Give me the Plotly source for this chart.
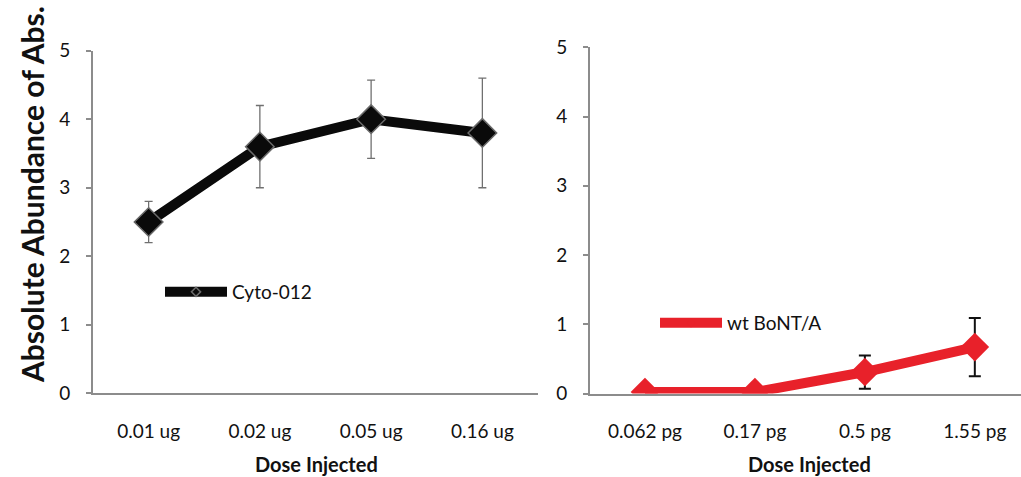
import plotly.graph_objects as go

# Left panel: Cyto-012
cyto_doses = ["0.01 ug", "0.02 ug", "0.05 ug", "0.16 ug"]
cyto_values = [2.5, 3.6, 4.0, 3.8]
cyto_errors = [0.3, 0.6, 0.57, 0.8]

# Right panel: wt BoNT/A
bont_doses = ["0.062 pg", "0.17 pg", "0.5 pg", "1.55 pg"]
bont_values = [0.02, 0.02, 0.31, 0.67]
bont_errors = [0.0, 0.0, 0.24, 0.42]

y_ticks = [0, 1, 2, 3, 4, 5]

FONT = "Lato"
W, H = 1021, 477
BLACK = "#0a0a0a"
RED = "#e8212a"

fig = go.Figure()

fig.add_trace(go.Scatter(
    x=cyto_doses, y=cyto_values, name="Cyto-012",
    mode="lines+markers", showlegend=False,
    line=dict(color=BLACK, width=10),
    marker=dict(symbol="diamond", size=22, color=BLACK,
                line=dict(color="#6a6a6a", width=1.5)),
    error_y=dict(type="data", array=cyto_errors, visible=True,
                 color="#707070", thickness=1.3, width=4),
    xaxis="x", yaxis="y",
))
# legend entry (small marker like the reference key)
fig.add_trace(go.Scatter(
    x=[None], y=[None], name="Cyto-012", mode="lines+markers",
    line=dict(color=BLACK, width=10),
    marker=dict(symbol="diamond", size=7, color=BLACK,
                line=dict(color="#6a6a6a", width=1.5)),
    xaxis="x", yaxis="y", legend="legend",
))

fig.add_trace(go.Scatter(
    x=bont_doses, y=bont_values, name="wt BoNT/A",
    mode="lines+markers", showlegend=False,
    line=dict(color=RED, width=10),
    marker=dict(symbol="diamond", size=22, color=RED),
    error_y=dict(type="data", array=bont_errors, visible=True,
                 color="#111111", thickness=2, width=6),
    xaxis="x2", yaxis="y2",
))
fig.add_trace(go.Scatter(
    x=[None], y=[None], name="wt BoNT/A", mode="lines+markers",
    line=dict(color=RED, width=10),
    marker=dict(symbol="diamond", size=7, color=RED),
    xaxis="x2", yaxis="y2", legend="legend2",
))

axis_line = "#8c8c8c"
tickfont = dict(family=FONT, size=19, color="#111111")

common_x = dict(type="category", showline=True, linecolor=axis_line, linewidth=2,
                showgrid=False, zeroline=False, ticks="outside", ticklen=20,
                tickcolor="rgba(0,0,0,0)", tickfont=tickfont, fixedrange=True)
common_y = dict(range=[0, 5], tickvals=y_ticks, showline=True, linecolor=axis_line,
                linewidth=2, showgrid=False, zeroline=False, ticks="outside",
                ticklen=5, tickcolor=axis_line, tickwidth=2, tickfont=tickfont,
                ticklabelstandoff=12, fixedrange=True)

fig.update_layout(
    width=W, height=H,
    margin=dict(l=0, r=0, t=0, b=0, autoexpand=False),
    paper_bgcolor="white", plot_bgcolor="white",
    font=dict(family=FONT, color="#111111"),
    xaxis=dict(domain=[93 / W, 538 / W], range=[-0.5, 3.5], anchor="y", **common_x),
    yaxis=dict(domain=[(H - 393.3) / H, (H - 50.7) / H], anchor="x", **common_y),
    xaxis2=dict(domain=[590 / W, 1.0], range=[-0.5, 3.42], anchor="y2", **common_x),
    yaxis2=dict(domain=[(H - 393.5) / H, (H - 47.3) / H], anchor="x2", **common_y),
    showlegend=True,
    legend=dict(x=160 / W, y=(H - 292) / H, xanchor="left", yanchor="middle",
                bgcolor="rgba(0,0,0,0)", itemwidth=62,
                font=dict(family=FONT, size=19, color="#111111")),
    legend2=dict(x=655 / W, y=(H - 323) / H, xanchor="left", yanchor="middle",
                 bgcolor="rgba(0,0,0,0)", itemwidth=62,
                 font=dict(family=FONT, size=19, color="#111111")),
    annotations=[
        dict(text="<b>Absolute Abundance of Abs.</b>", x=32 / W, y=(H - 195) / H,
             xref="paper", yref="paper", textangle=-90, showarrow=False,
             xanchor="center", yanchor="middle",
             font=dict(family=FONT, size=30, color="#111111")),
        dict(text="<b>Dose Injected</b>", x=316 / W, y=(H - 464) / H,
             xref="paper", yref="paper", showarrow=False,
             xanchor="center", yanchor="middle",
             font=dict(family=FONT, size=20, color="#111111")),
        dict(text="<b>Dose Injected</b>", x=809 / W, y=(H - 464) / H,
             xref="paper", yref="paper", showarrow=False,
             xanchor="center", yanchor="middle",
             font=dict(family=FONT, size=20, color="#111111")),
    ],
)

fig.write_html("out.html", config={"displayModeBar": False},
               post_script="document.body.style.margin='0';document.body.style.overflow='hidden';")
